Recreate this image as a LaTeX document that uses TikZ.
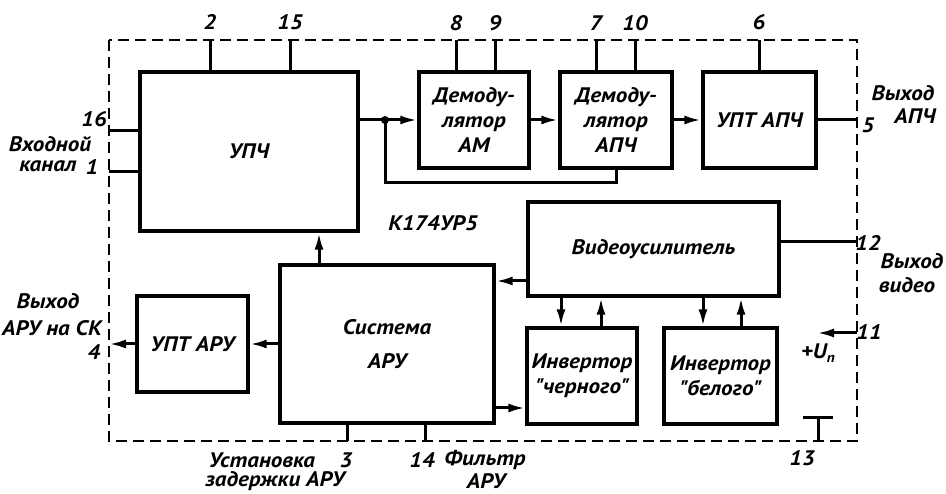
\documentclass[tikz,border=0pt]{standalone}
\usepackage{fontspec}
\setmainfont{PT Sans}[FakeStretch=1.1]
\usetikzlibrary{arrows.meta}

\begin{document}
\begin{tikzpicture}[x=1pt,y=-1pt,>={Latex[length=17pt,width=9pt]},
  every node/.style={font=\fontsize{21}{25}\selectfont\bfseries\itshape},
  blok/.style={draw,line width=3.4pt,align=center,inner sep=0pt},
  wire/.style={line width=3pt},
  kontur/.style={line width=2.8pt,dash pattern=on 11pt off 6pt}]
\useasboundingbox (0,0) rectangle (946,494);
\draw[kontur] (109,40) rectangle (857,441);

\node[blok,minimum width=218pt,minimum height=159pt] (upch) at (249,151.5) {УПЧ};
\node[blok,minimum width=110pt,minimum height=96pt] (demam) at (474,120) {Демоду-\\лятор\\АМ};
\node[blok,minimum width=112pt,minimum height=96pt] (demapch) at (616,120) {Демоду-\\лятор\\АПЧ};
\node[blok,minimum width=113pt,minimum height=96pt] (uptapch) at (759.5,120) {УПТ АПЧ};
\node[blok,minimum width=251pt,minimum height=94pt] (video) at (653.5,249) {Видеоусилитель};
\node[blok,minimum width=214pt,minimum height=158pt] (sist) at (387,344) {Система\\[9pt]АРУ};
\node[blok,minimum width=111pt,minimum height=96pt] (uptaru) at (192.5,344) {УПТ АРУ};
\node[blok,minimum width=110pt,minimum height=96pt] (invch) at (582,376) {Инвертор\\\textquotedbl черного\textquotedbl};
\node[blok,minimum width=113pt,minimum height=96pt] (invbel) at (720.5,376) {Инвертор\\\textquotedbl белого\textquotedbl};
\node (name) at (433,223) {К174УР5};

% upper chain
\coordinate (split) at (385,120);
\draw[wire] (upch.east |- split) -- (split);
\draw[wire,->] (split) -- (demam.west);
\fill (split) circle (4pt);
\draw[wire] (split) -- ++(0,63) -| (demapch.south);
\draw[wire,->] (demam.east) -- (demapch.west);
\draw[wire,->] (demapch.east) -- (uptapch.west);
\coordinate (p5) at (857,120);
\draw[wire] (uptapch.east) -- (p5);

% lower part
\coordinate (vs) at ([yshift=-32pt]video.west);
\draw[wire,->] (vs) -- (vs -| sist.east);
\coordinate (su) at ([xshift=-68pt]sist.north);
\draw[wire,->] (su) -- (su |- upch.south);
\draw[wire,->] (sist.west) -- (uptaru.east);
\coordinate (p4) at (109,344);
\draw[wire,->] (uptaru.west) -- (p4);
\coordinate (si) at ([yshift=-64pt]sist.east);
\draw[wire,->] (si) -- (si -| invch.west);
\coordinate (vc1) at ([xshift=-21pt]invch.north);
\coordinate (vc2) at ([xshift=19pt]invch.north);
\draw[wire,->] (vc1 |- video.south) -- (vc1);
\draw[wire,->] (vc2) -- (vc2 |- video.south);
\coordinate (vb1) at ([xshift=-17.5pt]invbel.north);
\coordinate (vb2) at ([xshift=20.5pt]invbel.north);
\draw[wire,->] (vb1 |- video.south) -- (vb1);
\draw[wire,->] (vb2) -- (vb2 |- video.south);
\coordinate (ve) at ([yshift=7pt]video.east);
\draw[wire] (ve) -- (ve -| p5);

% pins
\coordinate (p2) at (210,40);
\coordinate (p15) at (290,40);
\coordinate (p8) at (456,40);
\coordinate (p9) at (495,40);
\coordinate (p7) at (596,40);
\coordinate (p10) at (635,40);
\coordinate (p6) at (759,40);
\draw[wire] (p2) -- (p2 |- upch.north);
\draw[wire] (p15) -- (p15 |- upch.north);
\draw[wire] (p8) -- (p8 |- demam.north);
\draw[wire] (p9) -- (p9 |- demam.north);
\draw[wire] (p7) -- (p7 |- demapch.north);
\draw[wire] (p10) -- (p10 |- demapch.north);
\draw[wire] (p6) -- (p6 |- uptapch.north);
\coordinate (p16) at (109,131);
\coordinate (p1) at (109,172);
\draw[wire] (p16) -- (p16 -| upch.west);
\draw[wire] (p1) -- (p1 -| upch.west);
\coordinate (p3) at (347,441);
\coordinate (p14) at (425,441);
\draw[wire] (p3) -- (p3 |- sist.south);
\draw[wire] (p14) -- (p14 |- sist.south);
\coordinate (p11) at (857,333);
\draw[wire,->] (p11) -- ++(-40,0);
\coordinate (p13) at (818,441);
\draw[wire] (p13) -- (818,418);
\draw[wire] (803,418) -- (833,418);

% labels
\node at (210,22) {2};
\node at (290,22) {15};
\node at (456,23) {8};
\node at (495,23) {9};
\node at (596,23) {7};
\node at (635,23) {10};
\node at (759,22) {6};
\node at (94,119) {16};
\node at (92,167) {1};
\node at (50,144) {Входной};
\node at (48,166) {канал};
\node at (868,125) {5};
\node at (903,93) {Выход};
\node at (915,116) {АПЧ};
\node at (868,243) {12};
\node at (912,261) {Выход};
\node at (907,285) {видео};
\node at (869,332) {11};
\node at (818,353) {+U\raisebox{-4pt}{\fontsize{14}{14}\selectfont п}};
\node at (802,458) {13};
\node at (48,301) {Выход};
\node at (52,328) {АРУ на СК};
\node at (94,352) {4};
\node at (262,460) {Установка};
\node at (346,460) {3};
\node at (275,481) {задержки АРУ};
\node at (422,460) {14};
\node at (485,460) {Фильтр};
\node at (486,481) {АРУ};
\end{tikzpicture}
\end{document}
